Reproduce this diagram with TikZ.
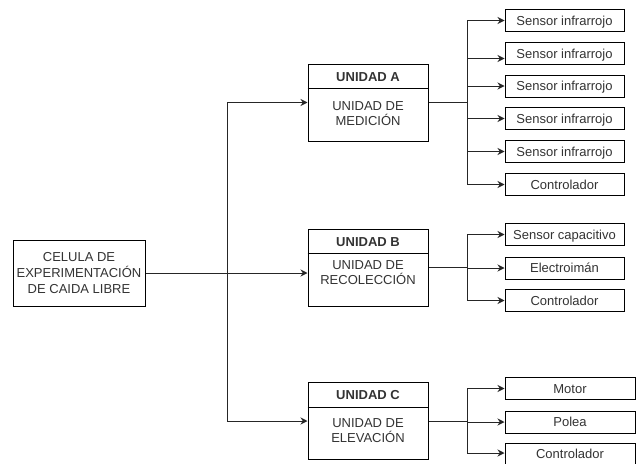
\documentclass[tikz,border=0pt]{standalone}
\usepackage{fontspec}
\setmainfont{Liberation Sans}
\usetikzlibrary{arrows.meta,calc}
\begin{document}
\begin{tikzpicture}[x=1pt,y=-1pt,
  every node/.style={font=\fontsize{13}{15}\selectfont, text=black!80, align=center},
  box/.style={draw=black, line width=1pt, fill=white, inner sep=0pt},
  unitbox/.style={box, minimum width=120pt, minimum height=77pt},
  leaf/.style={box, minimum width=119pt, minimum height=22pt, text height=9.3pt, text depth=0pt, align=none},
  wide leaf/.style={leaf, minimum width=130pt},
  head/.style={font=\fontsize{13}{15}\selectfont\bfseries, text height=9.3pt, text depth=0pt, align=none},
  link/.style={draw=black!85, line width=1pt},
  arr/.style={link, -{Stealth[length=7pt,width=7pt]}},
]
\useasboundingbox (0,0) rectangle (639,463);

% root block
\node[box, minimum width=132pt, minimum height=66pt, font=\fontsize{13}{16}\selectfont] (cel) at (79,273)
  {CELULA DE\\EXPERIMENTACIÓN\\DE CAIDA LIBRE};

% unit blocks (header strip + body)
\node[unitbox] (ua) at (368,102.5) {};
\draw[line width=1pt] ($(ua.north west)+(0,25)$) -- ($(ua.north east)+(0,25)$);
\node[head] (uah) at ($(ua.north)+(0,13)$) {UNIDAD A};
\node (uab) at ($(ua.north)+(0,50.5)$) {UNIDAD DE\\MEDICIÓN};

\node[unitbox] (ub) at (368,267.5) {};
\draw[line width=1pt] ($(ub.north west)+(0,25)$) -- ($(ub.north east)+(0,25)$);
\node[head] (ubh) at ($(ub.north)+(0,13)$) {UNIDAD B};
\node (ubb) at ($(ub.north)+(0,44.5)$) {UNIDAD DE\\RECOLECCIÓN};

\node[unitbox] (uc) at (368,421) {};
\draw[line width=1pt] ($(uc.north west)+(0,25)$) -- ($(uc.north east)+(0,25)$);
\node[head] (uch) at ($(uc.north)+(0,13)$) {UNIDAD C};
\node (ucb) at ($(uc.north)+(0,49)$) {UNIDAD DE\\ELEVACIÓN};

% components of unit A
\node[leaf] (a1) at (564.5,20.5)  {Sensor infrarrojo};
\node[leaf] (a2) at (564.5,53.5)  {Sensor infrarrojo};
\node[leaf] (a3) at (564.5,86)    {Sensor infrarrojo};
\node[leaf] (a4) at (564.5,118.5) {Sensor infrarrojo};
\node[leaf] (a5) at (564.5,151.5) {Sensor infrarrojo};
\node[leaf] (a6) at (564.5,184.5) {Controlador};

% components of unit B
\node[leaf] (b1) at (564.5,234.5) {Sensor capacitivo};
\node[leaf] (b2) at (564.5,268)   {Electroimán};
\node[leaf] (b3) at (564.5,300.5) {Controlador};

% components of unit C
\node[wide leaf] (c1) at (570,388.5) {Motor};
\node[wide leaf] (c2) at (570,422)   {Polea};
\node[wide leaf] (c3) at (570,454)   {Controlador};

% trunk from the root block
\coordinate (tr) at (227,273);
\draw[link] (cel.east) -- (tr);
\draw[arr] (tr) -- (ub.west |- tr);
\draw[arr] (tr) |- (ua.west);
\draw[arr] (tr) |- (uc.west);

% branches of unit A
\coordinate (ja) at (467,102.5);
\draw[link] (ua.east) -- (ja);
\draw[arr] (ja) |- (a1.west);
\draw[arr] (ja) |- ($(a2.west)+(0,5)$);
\draw[arr] (ja) |- (a3.west);
\draw[arr] (ja) |- (a4.west);
\draw[arr] (ja) |- (a5.west);
\draw[arr] (ja) |- (a6.west);

% branches of unit B
\coordinate (jb) at (467,267.5);
\draw[link] (ub.east) -- (jb);
\draw[arr] (jb) |- (b1.west);
\draw[arr] (jb) |- (b2.west);
\draw[arr] (jb) |- (b3.west);

% branches of unit C
\coordinate (jc) at (467,421);
\draw[link] (uc.east) -- (jc);
\draw[arr] (jc) |- (c1.west);
\draw[arr] (jc) |- (c2.west);
\draw[arr] (jc) |- ($(c3.west)+(0,-1)$);
\end{tikzpicture}
\end{document}
